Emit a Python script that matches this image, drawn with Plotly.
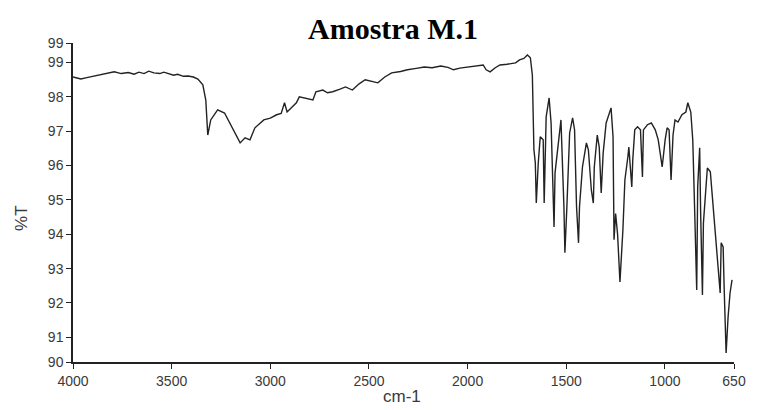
import plotly.graph_objects as go

# IR spectrum (wavenumber cm-1, %T)
wavenumber = [4000, 3960, 3930, 3900, 3865, 3830, 3791, 3755, 3720, 3690, 3666, 3640, 3616, 3590, 3560, 3540,
              3516, 3490, 3470, 3440, 3417, 3390, 3367, 3342, 3327, 3317,
              3302, 3267, 3232, 3202, 3167, 3153, 3128, 3103, 3078, 3033, 3000, 2968, 2945, 2928, 2915, 2868, 2853,
              2820, 2784, 2769, 2734, 2710, 2684, 2650, 2619, 2584, 2550, 2519, 2490, 2455, 2420, 2385, 2340,
              2305, 2260, 2220, 2180, 2136, 2100, 2071, 2040, 2006, 1960, 1921,
              1906, 1886, 1860, 1836, 1800, 1757, 1737, 1715, 1697, 1682, 1672, 1667, 1664, 1657, 1652, 1642, 1632, 1617,
              1612, 1602, 1587, 1577, 1562, 1557, 1537, 1527, 1512, 1507, 1497, 1483, 1468, 1458, 1448,
              1438, 1433, 1418, 1398, 1388, 1373, 1363, 1358, 1343, 1333, 1323, 1313, 1298, 1273, 1263,
              1258, 1250, 1240, 1228, 1213, 1203, 1188, 1183, 1168, 1163, 1153, 1139, 1124, 1114, 1109,
              1089, 1069, 1049, 1034, 1014, 999, 989, 979, 969, 959, 949, 934, 914, 894, 884,
              869, 859, 849, 839, 834, 824, 819, 810, 805, 795, 785, 770, 750, 735, 720,
              715, 705, 700, 690, 680, 670, 660]
transmittance = [98.58, 98.52, 98.56, 98.60, 98.64, 98.69, 98.73, 98.68, 98.71, 98.66, 98.72, 98.68, 98.75, 98.70, 98.68, 98.72,
                 98.67, 98.63, 98.66, 98.60, 98.61, 98.58, 98.52, 98.35, 97.91, 96.89,
                 97.33, 97.62, 97.53, 97.19, 96.84, 96.66, 96.81, 96.75, 97.10, 97.33, 97.38, 97.48, 97.52, 97.83, 97.56, 97.83, 98.00,
                 97.96, 97.91, 98.15, 98.20, 98.12, 98.15, 98.22, 98.29, 98.20, 98.38, 98.50, 98.46, 98.41, 98.58, 98.70, 98.74,
                 98.79, 98.83, 98.87, 98.85, 98.90, 98.86, 98.79, 98.84, 98.87, 98.90, 98.93,
                 98.79, 98.73, 98.85, 98.93, 98.95, 98.99, 99.08, 99.12, 99.22, 99.14, 98.64, 97.71, 96.46, 96.08, 94.91, 96.08, 96.84, 96.75,
                 94.91, 97.42, 97.97, 97.24, 94.21, 95.79, 96.95, 97.33, 94.80, 93.46, 94.80, 96.95, 97.39, 97.04, 94.80,
                 93.75, 94.80, 95.96, 96.66, 96.46, 95.29, 94.91, 95.96, 96.89, 96.54, 95.20, 96.37, 97.24, 97.68, 96.84,
                 93.84, 94.60, 94.00, 92.61, 94.13, 95.58, 96.25, 96.54, 95.38, 96.17, 97.04, 97.13, 97.04, 95.67, 97.04,
                 97.19, 97.24, 97.04, 96.75, 95.96, 96.75, 97.10, 97.04, 95.58, 96.89, 97.33, 97.27, 97.48, 97.56, 97.83,
                 97.56, 96.75, 94.62, 92.38, 95.38, 96.52, 94.62, 92.23, 94.33, 95.20, 95.93, 95.82, 94.42, 93.46, 92.29,
                 93.75, 93.63, 92.47, 90.54, 91.59, 92.29, 92.67]

x_tickvals = [4000, 3500, 3000, 2500, 2000, 1500, 1000, 650]
x_ticktext = ["4000", "3500", "3000", "2500", "2000", "1500", "1000", "650"]
y_tickvals = [90.28, 91, 92, 93, 94, 95, 96, 97, 98, 99, 99.57]
y_ticktext = ["90", "91", "92", "93", "94", "95", "96", "97", "98", "99", "99"]

fig = go.Figure()
fig.add_trace(go.Scatter(x=wavenumber, y=transmittance, mode="lines",
                         line=dict(color="#222222", width=1.4), showlegend=False))

axis_font = dict(family="Liberation Sans, Arial, sans-serif", size=14, color="#3a3a3a")
fig.update_layout(
    width=758, height=410,
    margin=dict(l=73, r=13, t=43, b=48),
    paper_bgcolor="white", plot_bgcolor="white",
    xaxis=dict(range=[4000, 650], tickvals=x_tickvals, ticktext=x_ticktext,
               showline=True, linecolor="#222222", linewidth=1.5, ticks="outside",
               ticklen=5, tickcolor="#222222", showgrid=False, zeroline=False,
               tickfont=axis_font),
    yaxis=dict(range=[90.28, 99.57], tickvals=y_tickvals, ticktext=y_ticktext,
               showline=True, linecolor="#222222", linewidth=1.5, ticks="outside",
               ticklen=5, tickcolor="#222222", showgrid=False, zeroline=False,
               tickfont=axis_font),
    annotations=[
        dict(text="<b>Amostra M.1</b>", xref="paper", yref="paper", x=0.4836, y=1.045,
             showarrow=False, xanchor="center", yanchor="middle",
             font=dict(family="Liberation Serif, Times New Roman, serif", size=30, color="black")),
        dict(text="cm-1", xref="paper", yref="paper", x=0.497, y=-0.1097,
             showarrow=False, xanchor="center", yanchor="middle",
             font=dict(family="Liberation Sans, Arial, sans-serif", size=17, color="#3a3a3a")),
        dict(text="%T", xref="paper", yref="paper", x=-0.0789, y=0.451, textangle=-90,
             showarrow=False, xanchor="center", yanchor="middle",
             font=dict(family="Liberation Sans, Arial, sans-serif", size=17, color="#3a3a3a")),
    ],
)

fig.write_html("out.html")
